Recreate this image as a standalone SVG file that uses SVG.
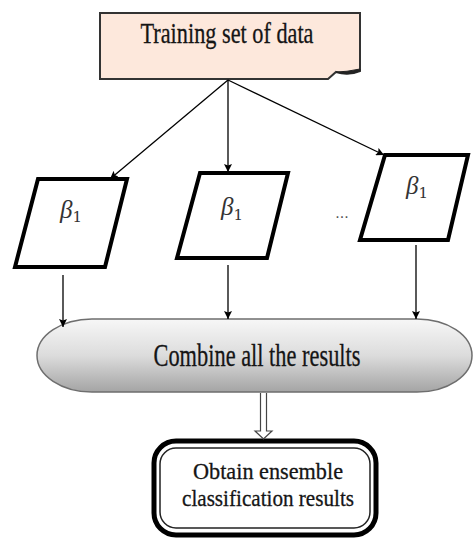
<svg xmlns="http://www.w3.org/2000/svg" width="474" height="538" viewBox="0 0 474 538">
<style>
.lbl{font-family:"Liberation Serif","Times New Roman",serif;fill:#151515;stroke:#151515;stroke-width:0.3}
.beta{font-family:"Liberation Serif",serif;font-style:italic;font-size:25px;fill:#333}
.sub{font-style:normal;font-family:"DejaVu Serif",serif;font-size:15px}
.para{fill:#fff;stroke:#000;stroke-width:4;stroke-linejoin:miter}
.conn{stroke:#000;stroke-width:1.3;fill:none}
</style>
<defs>
<marker id="ah" viewBox="0 0 10 10" refX="10" refY="5" markerWidth="8" markerHeight="8" markerUnits="userSpaceOnUse" orient="auto">
<path d="M0,0 L10,5 L0,10 L2,5 Z" fill="#000"/>
</marker>
<linearGradient id="gg" x1="0" y1="0" x2="0" y2="1">
<stop offset="0" stop-color="#f7f7f7"/>
<stop offset="0.5" stop-color="#dcdcdc"/>
<stop offset="1" stop-color="#a4a4a4"/>
</linearGradient>
</defs>

<g id="training">
<path d="M100,13 H360 V71 Q348,76 336,72 L328,79 H100 Z" fill="#fde8dc" stroke="#333" stroke-width="2"/>
<path d="M360,71 Q348,76 336,72 Q346,72 360,69 Z" fill="#222" stroke="#222" stroke-width="1"/>
<text class="lbl" x="227" y="43" font-size="29" text-anchor="middle" textLength="173" lengthAdjust="spacingAndGlyphs">Training set of data</text>
</g>

<g id="p1">
<polygon class="para" points="38,179 127,179 105,267 15,267"/>
<text class="beta" x="60" y="218">β<tspan class="sub" dy="4">1</tspan></text>
</g>
<g id="p2">
<polygon class="para" points="200,173 288,173 267,258 177,258"/>
<text class="beta" x="221" y="215">β<tspan class="sub" dy="5">1</tspan></text>
</g>
<g id="dots">
<text x="342" y="218" text-anchor="middle" font-family="Liberation Sans,sans-serif" font-size="16" fill="#555">...</text>
</g>
<g id="p3">
<polygon class="para" points="385,155 468,155 448,240 360,240"/>
<text class="beta" x="406" y="194">β<tspan class="sub" dy="4">1</tspan></text>
</g>

<g id="combine">
<rect x="37" y="319" width="435" height="73" rx="55" ry="36.5" fill="url(#gg)" stroke="#6e6e6e" stroke-width="1.5"/>
<text class="lbl" x="257" y="366" font-size="31" text-anchor="middle" textLength="207" lengthAdjust="spacingAndGlyphs">Combine all the results</text>
</g>

<g id="obtain">
<rect x="154" y="441" width="222" height="94" rx="22" ry="22" fill="#fff" stroke="#000" stroke-width="5"/>
<rect x="160" y="448" width="210" height="80" rx="16" ry="16" fill="none" stroke="#222" stroke-width="1.5"/>
<text class="lbl" x="268" y="479" font-size="24" text-anchor="middle" textLength="150" lengthAdjust="spacingAndGlyphs">Obtain ensemble</text>
<text class="lbl" x="268" y="506" font-size="24" text-anchor="middle" textLength="172" lengthAdjust="spacingAndGlyphs">classification results</text>
</g>

<g id="connectors">
<line class="conn" x1="228" y1="80" x2="110" y2="179" marker-end="url(#ah)"/>
<line class="conn" x1="228" y1="80" x2="228" y2="172" marker-end="url(#ah)"/>
<line class="conn" x1="228" y1="80" x2="384" y2="155" marker-end="url(#ah)"/>
<line class="conn" x1="63" y1="275" x2="63" y2="327" marker-end="url(#ah)"/>
<line class="conn" x1="228" y1="265" x2="228" y2="319" marker-end="url(#ah)"/>
<line class="conn" x1="416" y1="245" x2="416" y2="319" marker-end="url(#ah)"/>
<path d="M260.5,393 V431 H255 L263.5,439 L272,431 H266.5 V393" fill="#fff" stroke="#444" stroke-width="1.2"/>
</g>
</svg>
